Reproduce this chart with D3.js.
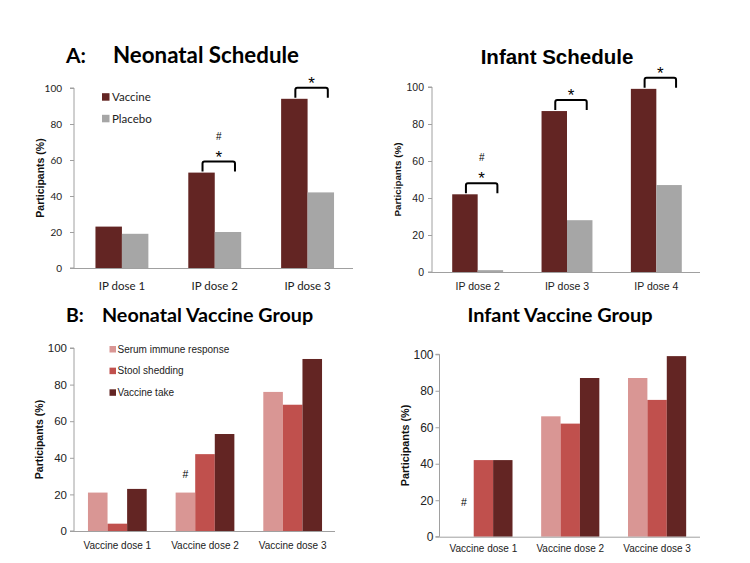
<!DOCTYPE html>
<html><head><meta charset="utf-8">
<script src="https://cdn.jsdelivr.net/npm/d3@7"></script>
<style>html,body{margin:0;padding:0;background:#fff;}svg{display:block;}</style>
</head><body>
<svg id="chart" width="750" height="563"></svg>
<script>
// ---------- data ----------
const scheduleSeries = ["Vaccine", "Placebo"];
const groupSeries = ["Serum immune response", "Stool shedding", "Vaccine take"];
const yTicks = [0, 20, 40, 60, 80, 100];

const neoScheduleCats = ["IP dose 1", "IP dose 2", "IP dose 3"];
const neoVaccine = [23, 53, 94];
const neoPlacebo = [19, 20, 42];
const neoStar = [false, true, true];
const neoHash = [false, true, false];

const infScheduleCats = ["IP dose 2", "IP dose 3", "IP dose 4"];
const infVaccine = [42, 87, 99];
const infPlacebo = [1, 28, 47];
const infStar = [true, true, true];
const infHash = [true, false, false];

const groupCats = ["Vaccine dose 1", "Vaccine dose 2", "Vaccine dose 3"];
const neoSerum = [21, 21, 76];
const neoStool = [4, 42, 69];
const neoTake = [23, 53, 94];
const neoGroupHash = [false, true, false];

const infSerum = [0, 66, 87];
const infStool = [42, 62, 75];
const infTake = [42, 87, 99];
const infGroupHash = [true, false, false];

// ---------- drawing ----------
const svg = d3.select("#chart");
const COL = {vaccine: "#632523", placebo: "#a6a6a6", serum: "#d99694", stool: "#c0504d", take: "#632523"};
const AX = "#a0a0a0";

function panel(cfg) {
  const g = svg.append("g");
  const x0 = d3.scaleBand().domain(cfg.cats).range(cfg.xRange)
    .paddingInner(cfg.pad).paddingOuter(cfg.pad / 2);
  const x1 = d3.scaleBand().domain(d3.range(cfg.series.length)).range([0, x0.bandwidth()]);
  const y = d3.scaleLinear().domain([0, 100]).range([cfg.y0, cfg.y100]);

  // bars
  cfg.series.forEach((vals, si) => {
    g.selectAll(null).data(vals).enter().append("rect")
      .attr("x", (d, i) => x0(cfg.cats[i]) + x1(si))
      .attr("y", d => y(d))
      .attr("width", x1.bandwidth())
      .attr("height", d => y(0) - y(d))
      .attr("fill", cfg.colors[si]);
  });

  // y axis
  const ya = d3.axisLeft(y).tickValues(yTicks).tickSize(4).tickPadding(cfg.tickPad);
  const yg = g.append("g").attr("transform", `translate(${cfg.axisX},0)`).call(ya);
  yg.select(".domain").attr("stroke", AX).attr("d", `M-4,${cfg.y100}H0V${cfg.y0}H-4`);
  yg.selectAll(".tick line").attr("stroke", AX);
  yg.selectAll(".tick text").attr("font-family", cfg.tickFont).attr("font-size", cfg.tickSize).attr("fill", "#222");

  // x axis line
  g.append("line").attr("x1", cfg.axisX).attr("x2", cfg.axisEnd)
    .attr("y1", y(0) + 0.5).attr("y2", y(0) + 0.5).attr("stroke", AX);
  g.selectAll(null).data(cfg.cats).enter().append("text")
    .attr("x", d => x0(d) + x0.bandwidth() / 2)
    .attr("y", cfg.catY)
    .attr("text-anchor", "middle")
    .attr("font-family", cfg.catFont).attr("font-size", cfg.catSize).attr("fill", "#222")
    .text(d => d);

  // y label
  g.append("text")
    .attr("transform", `translate(${cfg.ylabX},${(cfg.y0 + cfg.y100) / 2}) rotate(-90)`)
    .attr("text-anchor", "middle").attr("dominant-baseline", "central")
    .attr("font-family", "Liberation Sans, Arial, sans-serif").attr("font-weight", "bold")
    .attr("font-size", cfg.ylabSize).attr("fill", "#111")
    .text("Participants (%)");

  return {g, x0, x1, y};
}

function brackets(p, cats, vac, stars, hashes) {
  cats.forEach((c, i) => {
    if (!stars[i]) return;
    const xl = p.x0(c) + p.x1(0) + p.x1.bandwidth() / 2 + 1;
    const xr = p.x0(c) + p.x1(1) + p.x1.bandwidth() / 2 + 7;
    const yb = p.y(vac[i]) - 1;
    const yt = yb - 10;
    p.g.append("path")
      .attr("d", `M${xl},${yb}V${yt + 2}Q${xl},${yt} ${xl + 2},${yt}H${xr - 2}Q${xr},${yt} ${xr},${yt + 2}V${yb}`)
      .attr("fill", "none").attr("stroke", "#000").attr("stroke-width", 2);
    const cx = (xl + xr) / 2;
    p.g.append("text").attr("x", cx).attr("y", yt + 1).attr("text-anchor", "middle")
      .attr("font-family", "Liberation Sans, Arial, sans-serif").attr("font-size", 17).text("*");
    if (hashes[i]) {
      p.g.append("text").attr("x", cx).attr("y", yt - 22).attr("text-anchor", "middle")
        .attr("font-family", "Liberation Sans, Arial, sans-serif").attr("font-size", 10).text("#");
    }
  });
}

function title(x, yb, txt, size, family, anchor) {
  svg.append("text").attr("x", x).attr("y", yb).attr("text-anchor", anchor || "start")
    .attr("font-family", family).attr("font-weight", "bold").attr("font-size", size)
    .attr("fill", "#000").text(txt);
}

// ----- Panel A left: Neonatal Schedule -----
const pA1 = panel({
  cats: neoScheduleCats, series: [neoVaccine, neoPlacebo], colors: [COL.vaccine, COL.placebo],
  xRange: [75.5, 354], pad: 0.43, y0: 268, y100: 88, axisX: 74, axisEnd: 353,
  tickFont: "Lato, sans-serif", tickSize: 10, tickPad: 8,
  catFont: "Lato, sans-serif", catSize: 11.5, catY: 290, ylabX: 40, ylabSize: 10.5
});
brackets(pA1, neoScheduleCats, neoVaccine, neoStar, neoHash);
title(66, 63, "A:", 21, "Lato, sans-serif");
title(113, 63, "Neonatal Schedule", 22.3, "Lato, sans-serif");
// legend
scheduleSeries.forEach((s, i) => {
  const cy = 96.7 + i * 21.6;
  svg.append("rect").attr("x", 102).attr("y", cy - 3.5).attr("width", 7.5).attr("height", 7.5)
    .attr("fill", [COL.vaccine, COL.placebo][i]);
  svg.append("text").attr("x", 112).attr("y", cy).attr("dominant-baseline", "central")
    .attr("font-family", "Lato, sans-serif").attr("font-size", 11.5).attr("fill", "#222").text(s);
});

// ----- Panel A right: Infant Schedule -----
const pA2 = panel({
  cats: infScheduleCats, series: [infVaccine, infPlacebo], colors: [COL.vaccine, COL.placebo],
  xRange: [433, 701], pad: 0.43, y0: 272, y100: 87, axisX: 432, axisEnd: 700,
  tickFont: "Liberation Sans, Arial, sans-serif", tickSize: 10.5, tickPad: 4,
  catFont: "Liberation Sans, Arial, sans-serif", catSize: 10.5, catY: 290, ylabX: 397, ylabSize: 9.8
});
brackets(pA2, infScheduleCats, infVaccine, infStar, infHash);
title(557, 64, "Infant Schedule", 20.5, "Liberation Sans, Arial, sans-serif", "middle");

// ----- Panel B left: Neonatal Vaccine Group -----
const pB1 = panel({
  cats: groupCats, series: [neoSerum, neoStool, neoTake], colors: [COL.serum, COL.stool, COL.take],
  xRange: [73.5, 336.5], pad: 0.33, y0: 531, y100: 348, axisX: 74, axisEnd: 335,
  tickFont: "Liberation Sans, Arial, sans-serif", tickSize: 11.5, tickPad: 3,
  catFont: "Liberation Sans, Arial, sans-serif", catSize: 10, catY: 548.5, ylabX: 38.5, ylabSize: 10.5
});
title(66, 322, "B:", 19.5, "Lato, sans-serif");
title(102, 322, "Neonatal Vaccine Group", 19.7, "Lato, sans-serif");
groupSeries.forEach((s, i) => {
  const cy = 349 + i * 21.65;
  svg.append("rect").attr("x", 109.5).attr("y", cy - 3).attr("width", 6.5).attr("height", 6.5)
    .attr("fill", [COL.serum, COL.stool, COL.take][i]);
  svg.append("text").attr("x", 117.5).attr("y", cy).attr("dominant-baseline", "central")
    .attr("font-family", "Liberation Sans, Arial, sans-serif").attr("font-size", 10).attr("fill", "#222").text(s);
});

// ----- Panel B right: Infant Vaccine Group -----
const pB2 = panel({
  cats: groupCats, series: [infSerum, infStool, infTake], colors: [COL.serum, COL.stool, COL.take],
  xRange: [440, 700.5], pad: 0.33, y0: 536.7, y100: 354.3, axisX: 439.5, axisEnd: 700,
  tickFont: "Liberation Sans, Arial, sans-serif", tickSize: 12, tickPad: 2,
  catFont: "Liberation Sans, Arial, sans-serif", catSize: 10, catY: 552, ylabX: 404.5, ylabSize: 10.8
});
title(560, 322, "Infant Vaccine Group", 19.9, "Lato, sans-serif", "middle");

// hash markers on group panels (above serum bars)
function groupHashes(p, cats, serum, flags) {
  cats.forEach((c, i) => {
    if (!flags[i]) return;
    const cx = p.x0(c) + p.x1(0) + p.x1.bandwidth() / 2;
    p.g.append("text").attr("x", cx).attr("y", p.y(Math.max(serum[i] + 10, 19)))
      .attr("text-anchor", "middle").attr("dominant-baseline", "central")
      .attr("font-family", "Liberation Sans, Arial, sans-serif").attr("font-size", 10.5).text("#");
  });
}
groupHashes(pB1, groupCats, neoSerum, neoGroupHash);
groupHashes(pB2, groupCats, infSerum, infGroupHash);
</script>
</body></html>
